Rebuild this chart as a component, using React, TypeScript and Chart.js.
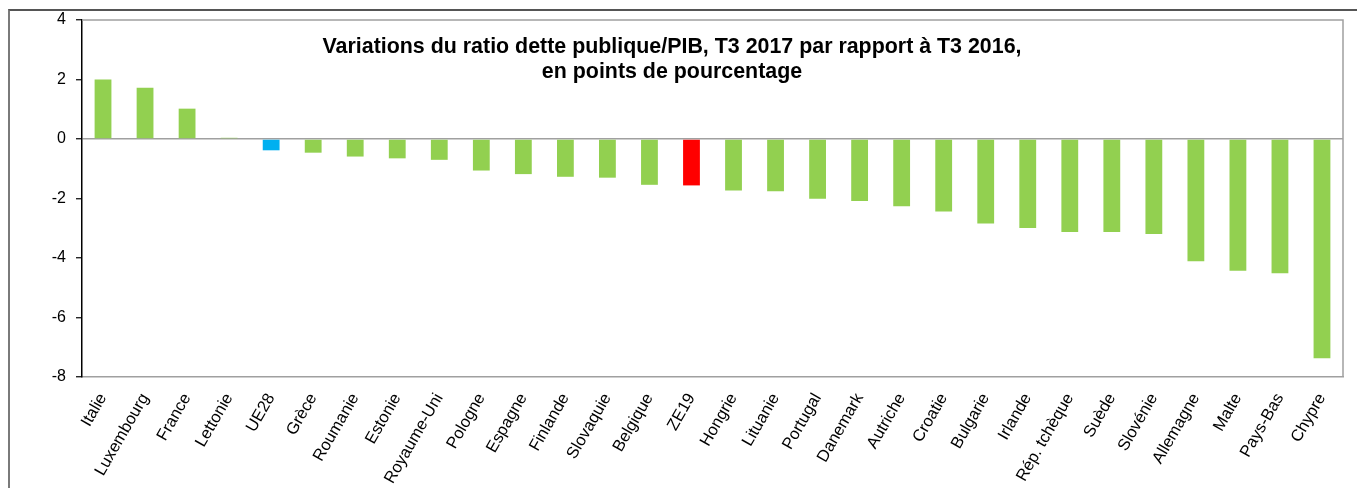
import React, { useEffect, useRef } from "react";
import { Chart, registerables } from "chart.js";

Chart.register(...registerables);

const categories = [
  "Italie", "Luxembourg", "France", "Lettonie", "UE28", "Grèce", "Roumanie", "Estonie",
  "Royaume-Uni", "Pologne", "Espagne", "Finlande", "Slovaquie", "Belgique", "ZE19",
  "Hongrie", "Lituanie", "Portugal", "Danemark", "Autriche", "Croatie", "Bulgarie",
  "Irlande", "Rép. tchèque", "Suède", "Slovénie", "Allemagne", "Malte", "Pays-Bas", "Chypre",
];

const values = [
  2.0, 1.72, 1.02, 0.04, -0.38, -0.46, -0.59, -0.65, -0.7, -1.06, -1.18, -1.27, -1.3,
  -1.54, -1.56, -1.73, -1.76, -2.01, -2.08, -2.26, -2.44, -2.84, -2.99, -3.13, -3.13,
  -3.19, -4.11, -4.43, -4.51, -7.37,
];

const yTicks = [-8, -6, -4, -2, 0, 2, 4];

const titleLines = [
  "Variations du ratio dette publique/PIB, T3 2017 par rapport à T3 2016,",
  "en points de pourcentage",
];

const FONT = '"Liberation Sans", Arial, sans-serif';

export default function App() {
  const canvasRef = useRef<HTMLCanvasElement | null>(null);

  useEffect(() => {
    const canvas = canvasRef.current;
    if (!canvas) return;

    const frameAndTitle = {
      id: "frameAndTitle",
      beforeDatasetsDraw(chart: any) {
        const { ctx, chartArea } = chart;
        ctx.save();
        ctx.strokeStyle = "#a0a0a0";
        ctx.lineWidth = 1.5;
        ctx.beginPath();
        ctx.moveTo(chartArea.left, chartArea.top);
        ctx.lineTo(chartArea.right, chartArea.top);
        ctx.lineTo(chartArea.right, chartArea.bottom);
        ctx.stroke();
        ctx.restore();
      },
      afterDraw(chart: any) {
        const { ctx } = chart;
        ctx.save();
        ctx.fillStyle = "#000";
        ctx.font = `bold 21.4px ${FONT}`;
        ctx.textAlign = "center";
        ctx.textBaseline = "alphabetic";
        ctx.fillText(titleLines[0], 672, 53);
        ctx.fillText(titleLines[1], 672, 78);
        ctx.restore();
      },
    };

    const colors = categories.map((c) =>
      c === "UE28" ? "#00B0F0" : c === "ZE19" ? "#FF0000" : "#92D050"
    );

    const chart = new Chart(canvas, {
      type: "bar",
      data: {
        labels: categories,
        datasets: [
          {
            data: values,
            backgroundColor: colors,
            borderWidth: 0,
            barPercentage: 0.4,
            categoryPercentage: 1,
          },
        ],
      },
      options: {
        animation: false,
        responsive: false,
        devicePixelRatio: 1,
        layout: { padding: { left: 0, top: 20, right: 14, bottom: 0 } },
        plugins: {
          legend: { display: false },
          tooltip: { enabled: false },
          title: { display: false },
        },
        scales: {
          x: {
            grid: { display: false, drawTicks: false },
            border: { display: true, color: "#a0a0a0", width: 1.5 },
            ticks: {
              autoSkip: false,
              minRotation: 60,
              maxRotation: 60,
              padding: 13,
              color: "#000",
              font: { family: FONT, size: 16.5 },
            },
            afterFit: (scale: any) => {
              scale.height = 111;
            },
          },
          y: {
            min: -8,
            max: 4,
            afterBuildTicks: (scale: any) => {
              scale.ticks = yTicks.map((v) => ({ value: v }));
            },
            grid: {
              drawOnChartArea: true,
              drawTicks: true,
              tickLength: 6,
              tickColor: "#000",
              tickWidth: 1.2,
              lineWidth: 1.5,
              color: (ctx: any) => (ctx.tick && ctx.tick.value === 0 ? "#a0a0a0" : "rgba(0,0,0,0)"),
            },
            border: { display: true, color: "#000", width: 1.5 },
            ticks: {
              padding: 10,
              color: "#000",
              font: { family: FONT, size: 16 },
            },
            afterFit: (scale: any) => {
              scale.width = 82;
            },
          },
        },
      },
      plugins: [frameAndTitle],
    });

    return () => chart.destroy();
  }, []);

  return (
    <div>
      <div
        style={{
          position: "fixed",
          left: 8,
          top: 9,
          width: 1400,
          height: 600,
          borderLeft: "2px solid #7a7a7a",
          borderTop: "2px solid #555",
          boxSizing: "border-box",
        }}
      />
      <canvas
        ref={canvasRef}
        width={1357}
        height={488}
        style={{ position: "fixed", left: 0, top: 0, width: 1357, height: 488 }}
      />
    </div>
  );
}
